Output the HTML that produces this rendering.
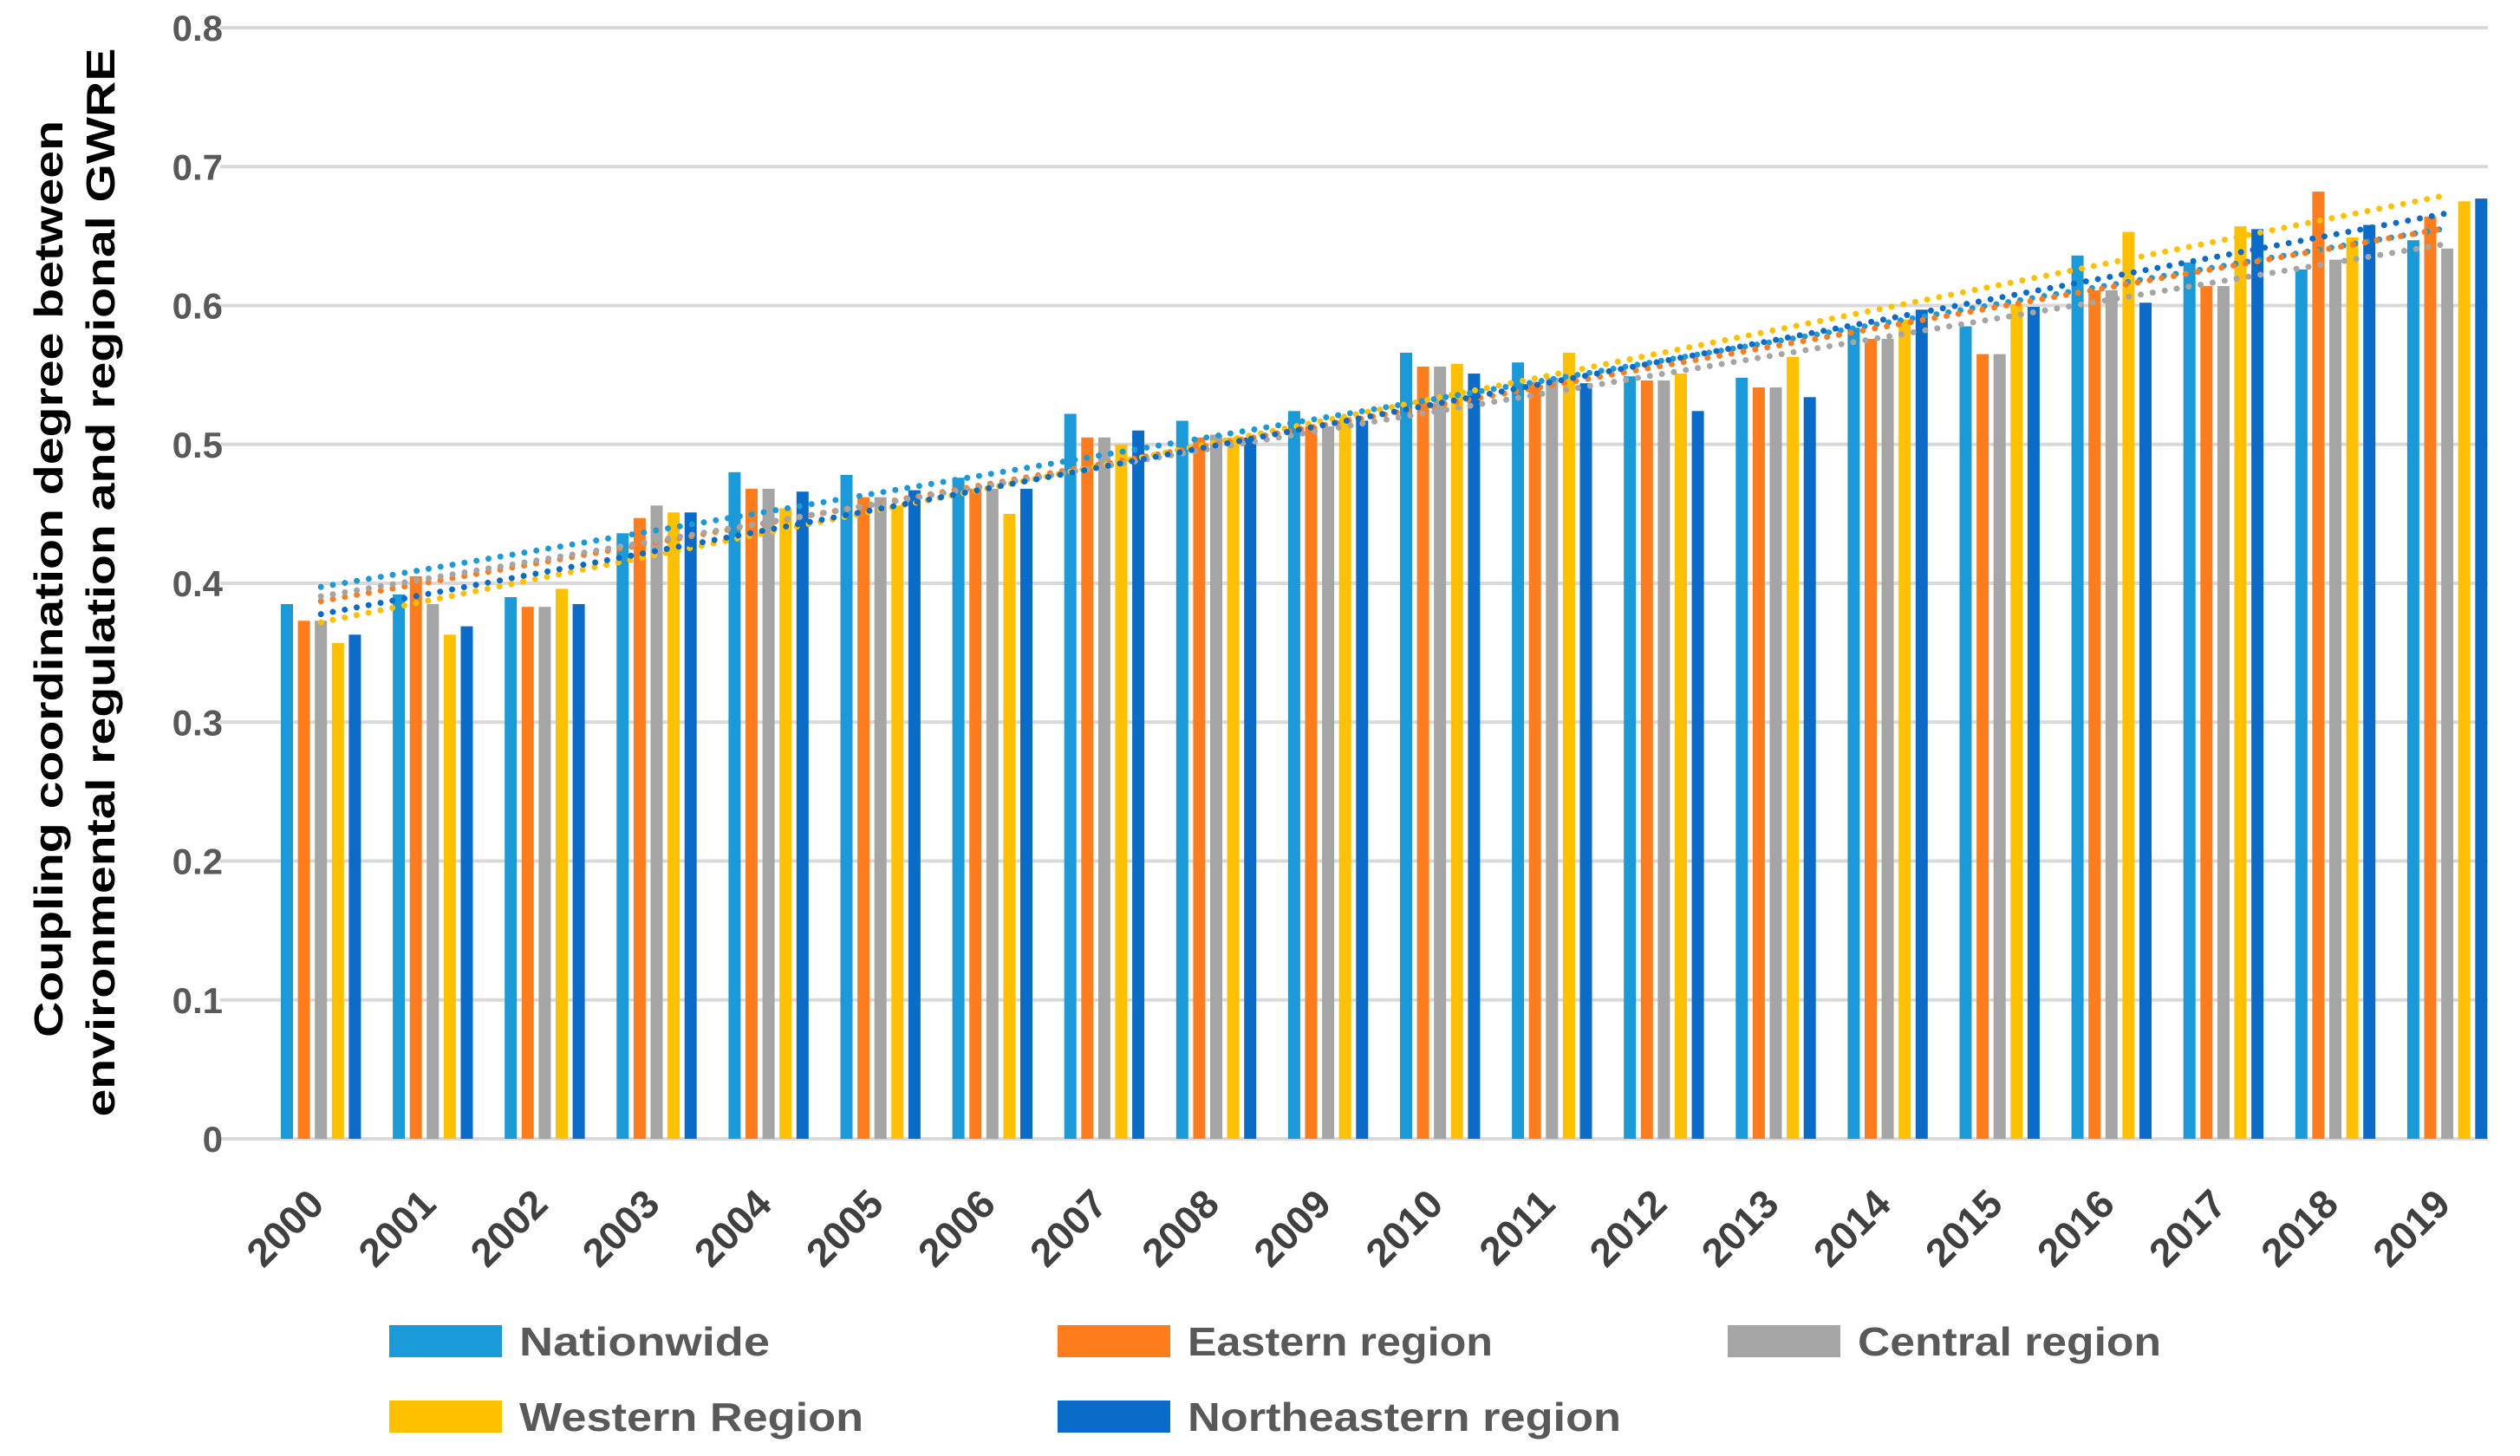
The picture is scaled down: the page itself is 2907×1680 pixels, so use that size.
<!DOCTYPE html>
<html><head><meta charset="utf-8"><style>
html,body{margin:0;padding:0;background:#fff;}
svg{display:block;}
text{font-family:"Liberation Sans",sans-serif;font-weight:bold;}
</style></head><body>
<svg id="chart" width="2907" height="1680" viewBox="0 0 2907 1680" xmlns="http://www.w3.org/2000/svg">
<g id="grid"></g>
<g id="yticks"></g>
<g id="bars"></g>
<g id="trends"></g>
<g id="xticks"></g>
<g fill="#000" font-size="46">
<text transform="translate(72,668) rotate(-90)" text-anchor="middle" textLength="1058" lengthAdjust="spacingAndGlyphs">Coupling coordination degree between</text>
<text transform="translate(132,672) rotate(-90)" text-anchor="middle" textLength="1233" lengthAdjust="spacingAndGlyphs">environmental regulation and regional  GWRE</text>
</g>
<g id="legend"></g>
</svg>
<script>
const years = ["2000","2001","2002","2003","2004","2005","2006","2007","2008","2009","2010","2011","2012","2013","2014","2015","2016","2017","2018","2019"];
const nationwide = [0.385,0.392,0.390,0.436,0.480,0.478,0.476,0.522,0.517,0.524,0.566,0.559,0.549,0.548,0.584,0.585,0.636,0.631,0.626,0.647];
const eastern = [0.373,0.405,0.383,0.447,0.468,0.462,0.468,0.505,0.505,0.513,0.556,0.545,0.546,0.541,0.576,0.565,0.611,0.614,0.682,0.664];
const central = [0.373,0.385,0.383,0.456,0.468,0.462,0.468,0.505,0.507,0.513,0.556,0.548,0.546,0.541,0.576,0.565,0.611,0.614,0.633,0.641];
const western = [0.357,0.363,0.396,0.451,0.454,0.456,0.450,0.500,0.505,0.520,0.558,0.566,0.551,0.563,0.590,0.601,0.653,0.657,0.649,0.675];
const northeastern = [0.363,0.369,0.385,0.451,0.466,0.467,0.468,0.510,0.505,0.517,0.551,0.544,0.524,0.534,0.597,0.599,0.602,0.655,0.658,0.677];
const seriesNames = ["Nationwide","Eastern region","Central region","Western Region","Northeastern region"];
const yTicks = [0,0.1,0.2,0.3,0.4,0.5,0.6,0.7,0.8];
const yTickLabels = ["0","0.1","0.2","0.3","0.4","0.5","0.6","0.7","0.8"];

const NS="http://www.w3.org/2000/svg";
const series=[nationwide,eastern,central,western,northeastern];
const colors=["#1a9ad8","#ff7c1c","#a5a5a5","#ffc000","#0a6bc8"];
const y0=1314, yTop=32, vMax=0.8;
function yScale(v){return y0-(v/vMax)*(y0-yTop);}
const groupStart=324, groupPitch=129.1, barPitch=19.6, barW=14;
function xBar(i,s){return groupStart+i*groupPitch+s*barPitch;}
function xCenter(i){return groupStart+i*groupPitch+2*barPitch+barW/2;}
function mk(tag,attrs,parent){const e=document.createElementNS(NS,tag);for(const k in attrs)e.setAttribute(k,attrs[k]);parent.appendChild(e);return e;}

const grid=document.getElementById('grid'), yt=document.getElementById('yticks');
yTicks.forEach((t,k)=>{
  const l=mk('line',{x1:254,x2:2870,y1:yScale(t),y2:yScale(t),stroke:'#d9d9d9','stroke-width':4},grid);
  
  
  const tx=mk('text',{x:257,y:yScale(t)+15,'text-anchor':'end','font-size':42,fill:'#595959'},yt);
  tx.textContent=yTickLabels[k];
  
  
});

const bars=document.getElementById('bars');
series.forEach((arr,s)=>{
  arr.forEach((v,i)=>{
    const r=mk('rect',{x:xBar(i,s),y:yScale(v),width:barW,height:y0-yScale(v),fill:colors[s]},bars);
    
    
  });
});

const trends=document.getElementById('trends');
series.forEach((arr,s)=>{
  const n=arr.length;let sx=0,sy=0,sxy=0,sxx=0;
  arr.forEach((v,i)=>{sx+=i;sy+=v;sxy+=i*v;sxx+=i*i;});
  const b=(n*sxy-sx*sy)/(n*sxx-sx*sx), a=(sy-b*sx)/n;
  const l=mk('line',{x1:xCenter(0),y1:yScale(a),x2:xCenter(n-1),y2:yScale(a+b*(n-1)),stroke:colors[s],'stroke-width':7,'stroke-linecap':'round','stroke-dasharray':'0 14'},trends);
  
  
});

const xt=document.getElementById('xticks');
years.forEach((y,i)=>{
  const cx=xCenter(i)+6;
  const t=mk('text',{transform:`translate(${cx},1392) rotate(-45)`,'text-anchor':'end','font-size':46,fill:'#404040'},xt);
  t.textContent=y;
  
  
});

const lg=document.getElementById('legend');
const legPos=[[449,1548,289],[1220,1548,352],[1993,1548,350],[449,1635,397],[1220,1635,500]];
seriesNames.forEach((nm,s)=>{
  const [x,y,w]=legPos[s];
  const g=mk('g',{},lg);
  
  
  mk('rect',{x:x,y:y-19,width:130,height:37,fill:colors[s]},g);
  const t=mk('text',{x:x+150,y:y+16,'font-size':46,fill:'#595959',textLength:w,lengthAdjust:'spacingAndGlyphs'},g);
  t.textContent=nm;
});
</script>
</body></html>
